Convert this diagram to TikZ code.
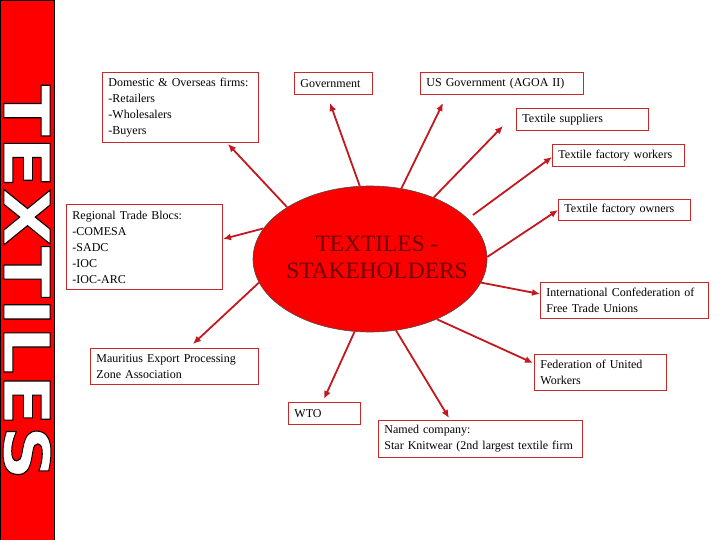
\documentclass[tikz,border=0pt]{standalone}
\usepackage{fontspec}
\setmainfont{Liberation Serif}
\newfontfamily\barfont{DejaVu Sans}
\usetikzlibrary{arrows.meta,shapes.geometric}
\definecolor{boxred}{RGB}{200,40,40}
\definecolor{arrred}{RGB}{195,25,30}
\definecolor{titlered}{RGB}{110,0,0}
\definecolor{hubred}{RGB}{252,0,0}
\begin{document}
\begin{tikzpicture}[x=1pt,y=-1pt,
  sbox/.style={draw=boxred, line width=0.9pt, fill=white, anchor=north west,
    inner xsep=6pt, inner ysep=0pt, align=left,
    font=\fontsize{12}{16}\selectfont},
  conn/.style={draw=arrred, line width=1.8pt, -{Latex[length=8pt,width=7pt]}},
  bartext/.style={rotate=-90, inner sep=0pt}]
\useasboundingbox (0,0) rectangle (720,540);
\fill[white] (0,0) rectangle (720,540);
% left bar
\node[draw=black, line width=1pt, fill=red, minimum width=54pt, minimum height=540pt, inner sep=0pt, anchor=north west] (bar) at (0,0) {};
\node[bartext, text=white] (bartitle) at (27,282.5) {\special{pdf:literal direct 2 Tr 0.15 w 0 0 0 RG}\resizebox{395pt}{47pt}{\barfont\bfseries TEXTILES}\special{pdf:literal direct 0 Tr}};
% hub
\node[ellipse, draw=black!70, line width=0.6pt, fill=hubred, minimum width=234pt, minimum height=146pt, inner sep=0pt] (hub) at (370,259) {};
\node[text=titlered, align=center, font=\fontsize{23.4}{27}\selectfont] (title) at (377,257) {TEXTILES -\\STAKEHOLDERS};
% boxes
\node[sbox, text width=144pt, minimum height=70pt] (dom) at (102,72) {Domestic \& Overseas firms:\\-Retailers\\-Wholesalers\\-Buyers};
\node[sbox, text width=66pt, minimum height=22pt] (gov) at (294,72) {Government};
\node[sbox, text width=151pt, minimum height=22pt] (usg) at (420,72) {US Government (AGOA II)};
\node[sbox, text width=120pt, minimum height=22pt] (sup) at (516,108) {Textile suppliers};
\node[sbox, text width=120pt, minimum height=22pt] (wrk) at (552,144) {Textile factory workers};
\node[sbox, text width=120pt, minimum height=21pt] (own) at (558,199) {Textile factory owners};
\node[sbox, text width=156pt, minimum height=36pt] (icf) at (540,282) {International Confederation of\\Free Trade Unions};
\node[sbox, text width=120pt, minimum height=36pt] (fed) at (534,354) {Federation of United\\Workers};
\node[sbox, text width=192pt, minimum height=37pt] (nam) at (378,420) {Named company:\\Star Knitwear (2nd largest textile firm};
\node[sbox, text width=60pt, minimum height=22pt] (wto) at (288,402) {WTO};
\node[sbox, text width=156pt, minimum height=36pt] (mau) at (90,348) {Mauritius Export Processing\\Zone Association};
\node[sbox, text width=144pt, minimum height=85pt] (reg) at (66,204) {Regional Trade Blocs:\\-COMESA\\-SADC\\-IOC\\-IOC-ARC};
% arrow tips
\coordinate (t1) at (228,144);
\coordinate (t2) at (330,103);
\coordinate (t3) at (443,103);
\coordinate (t4) at (503,126);
\coordinate (s5) at (473,215);
\coordinate (t5) at (552,157);
\coordinate (t6) at (558,210);
\coordinate (t7) at (540,294);
\coordinate (t8) at (533,363);
\coordinate (t9) at (449,418);
\coordinate (t10) at (324,399);
\coordinate (t11) at (193,344);
\coordinate (t12) at (223,239);
% connectors
\draw[conn] (hub.148) -- (t1);
\draw[conn] (hub.98) -- (t2);
\draw[conn] (hub.66) -- (t3);
\draw[conn] (hub.44) -- (t4);
\draw[conn] (s5) -- (t5);
\draw[conn] (hub.1) -- (t6);
\draw[conn] (hub.-12) -- (t7);
\draw[conn] (hub.-42) -- (t8);
\draw[conn] (hub.-70) -- (t9);
\draw[conn] (hub.-102) -- (t10);
\draw[conn] (hub.192) -- (t11);
\draw[conn] (hub.164) -- (t12);
\end{tikzpicture}
\end{document}
